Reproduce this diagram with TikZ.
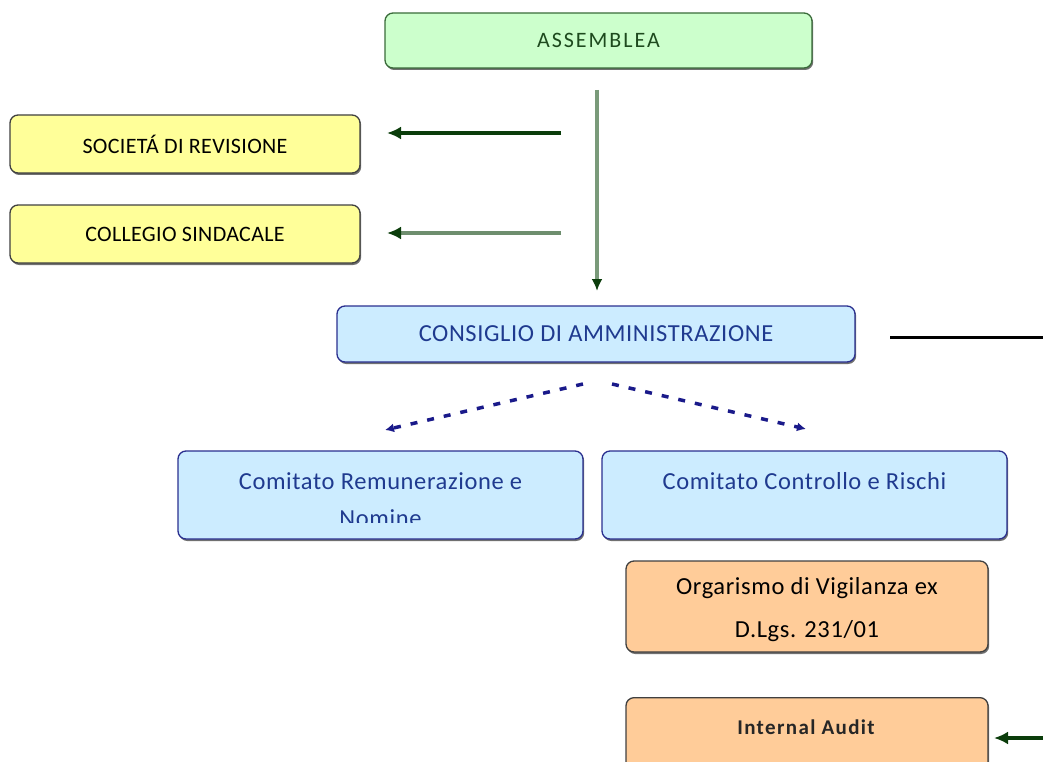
\documentclass[tikz,border=0pt]{standalone}
\usepackage{fontspec}
\setmainfont{Carlito}
\usetikzlibrary{arrows.meta,shadows}
\definecolor{gfill}{HTML}{CCFFCC}
\definecolor{gline}{HTML}{3A6B3A}
\definecolor{gtext}{HTML}{1E4A1E}
\definecolor{yfill}{HTML}{FFFF99}
\definecolor{bfill}{HTML}{CCECFF}
\definecolor{bline}{HTML}{2A2F8F}
\definecolor{btext}{HTML}{1F3A8F}
\definecolor{ofill}{HTML}{FFCC99}
\definecolor{dkline}{HTML}{404040}
\definecolor{agreen}{HTML}{0B3D0B}
\definecolor{agray}{HTML}{6E8E6E}
\definecolor{avert}{HTML}{7A9A7A}
\definecolor{dblue}{HTML}{1A1A8A}
\tikzset{
  box/.style={draw, rounded corners=8pt, line width=1.3pt, inner sep=0pt,
    drop shadow={shadow xshift=1.2pt, shadow yshift=-2pt, fill=black!70, opacity=0.8}},
  greenbox/.style={box, draw=gline, fill=gfill},
  yellowbox/.style={box, draw=dkline, fill=yfill},
  bluebox/.style={box, draw=bline, fill=bfill},
  orangebox/.style={box, draw=dkline, fill=ofill},
  lbl/.style={inner sep=0pt},
  garrow/.style={-{Latex[length=14pt,width=13pt,color=agreen]}, line width=3.5pt},
  varrow/.style={-{Latex[length=12pt,width=11pt,color=agreen]}, line width=3.5pt},
  darrow/.style={-{Latex[length=9pt,width=9pt]}, line width=3.5pt, dblue, dash pattern=on 7pt off 10pt},
}
\newfontfamily\spaced[LetterSpace=2.5]{Carlito}
\newfontfamily\spacedone[LetterSpace=1.5]{Carlito}
\newfontfamily\wide[LetterSpace=9]{Carlito}
\newfontfamily\boldspaced[LetterSpace=6.5]{Carlito Bold}
\begin{document}
\begin{tikzpicture}[x=1pt,y=-1pt]
\useasboundingbox (0,0) rectangle (1043,762);
% boxes
\node[greenbox, minimum width=427pt, minimum height=55pt] (ass) at (598.5,40.5)
  {\wide\fontsize{22}{24}\selectfont\color{gtext}ASSEMBLEA};
\node[yellowbox, minimum width=350pt, minimum height=58pt] (soc) at (185,144)
  {\spacedone\fontsize{22}{24}\selectfont SOCIETÁ DI REVISIONE};
\node[yellowbox, minimum width=350pt, minimum height=58pt] (col) at (185,234)
  {\spacedone\fontsize{22}{24}\selectfont COLLEGIO SINDACALE};
\node[bluebox, minimum width=518pt, minimum height=56pt] (cda) at (596,334)
  {\spaced\fontsize{24.5}{26}\selectfont\color{btext}CONSIGLIO DI AMMINISTRAZIONE};
\node[bluebox, minimum width=405pt, minimum height=88pt] (crn) at (380.5,495) {};
\node[lbl, font=\spaced\fontsize{24.5}{26}\selectfont, text=btext, anchor=base] (crn1) at (380.5,489)
  {Comitato Remunerazione e};
\begin{scope}
  \clip (178,451) rectangle (583,522);
  \node[lbl, font=\spaced\fontsize{24.5}{26}\selectfont, text=btext, anchor=base] (crn2) at (380.5,526)
    {Nomine};
\end{scope}
\node[bluebox, minimum width=405pt, minimum height=88pt] (ccr) at (804.5,495) {};
\node[lbl, font=\spaced\fontsize{24.5}{26}\selectfont, text=btext, anchor=base] (ccrtxt) at (804.5,489)
  {Comitato Controllo e Rischi};
\node[orangebox, minimum width=362pt, minimum height=91pt] (odv) at (807,606.5) {};
\node[lbl, font=\spaced\fontsize{24.5}{26}\selectfont, anchor=base] (odv1) at (807,594)
  {Orgarismo di Vigilanza ex};
\node[lbl, font=\spaced\fontsize{24.5}{26}\selectfont, anchor=base] (odv2) at (807,637)
  {D.Lgs. 231/01};
\node[orangebox, minimum width=362pt, minimum height=80pt, anchor=north] (ia) at (807,697) {};
\node[lbl, font=\boldspaced\fontsize{21}{24}\selectfont, text=black!85, anchor=base] (iatxt) at (806,734) {Internal Audit};
% connectors
\coordinate (v1) at (597,90);
\coordinate (v2) at (597,291);
\draw[varrow, avert] (v1) -- (v2);
\coordinate (s1) at (561,133);
\coordinate (s2) at (387,133);
\draw[garrow, agreen] (s1) -- (s2);
\coordinate (c1) at (561,233);
\coordinate (c2) at (387,233);
\draw[garrow, agray] (c1) -- (c2);
\coordinate (k1) at (890,337);
\coordinate (k2) at (1043,337);
\draw[line width=3pt, black] (k1) -- (k2);
\coordinate (d1) at (583,384);
\coordinate (d2) at (385,430);
\draw[darrow] (d1) -- (d2);
\coordinate (e1) at (612,384);
\coordinate (e2) at (806,429);
\draw[darrow] (e1) -- (e2);
\coordinate (i1) at (1043,738);
\coordinate (i2) at (994,738);
\draw[garrow, agreen] (i1) -- (i2);
\end{tikzpicture}
\end{document}
